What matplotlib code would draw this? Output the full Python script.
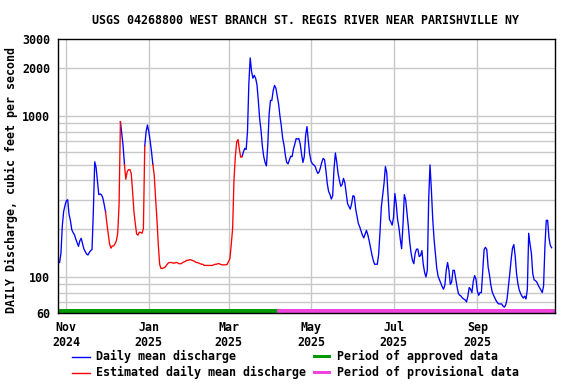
import matplotlib
matplotlib.use("Agg")
import matplotlib.pyplot as plt
from matplotlib.lines import Line2D
from matplotlib.patches import Rectangle
from matplotlib.ticker import FixedLocator, NullFormatter
import numpy as np
import pandas as pd

title = "USGS 04268800 WEST BRANCH ST. REGIS RIVER NEAR PARISHVILLE NY"
ylabel = "DAILY Discharge, cubic feet per second"
start_date = "2024-10-26"

# daily mean discharge (cfs), 2024-10-26 .. 2025-10-26
discharge = [
    123, 123, 140, 207, 255, 278, 298, 302, 245, 225,
    197, 189, 183, 172, 163, 155, 168, 174, 161, 149,
    144, 139, 137, 142, 146, 148, 260, 520, 480, 395,
    325, 328, 324, 310, 282, 254, 215, 185, 160, 151,
    156, 156, 161, 168, 187, 280, 923, 780, 650, 500,
    405, 450, 465, 465, 440, 340, 255, 215, 185, 182,
    190, 189, 187, 200, 650, 800, 880, 800, 700, 600,
    500, 430, 310, 230, 160, 120, 113, 113, 114, 115,
    118, 121, 123, 123, 123, 122, 122, 123, 123, 121,
    121, 121, 123, 124, 125, 127, 127, 128, 128, 127,
    126, 125, 123, 123, 122, 121, 120, 120, 118, 118,
    118, 118, 118, 118, 118, 119, 120, 120, 121, 121,
    120, 119, 119, 119, 119, 120, 125, 130, 160, 200,
    400, 560, 690, 715, 620, 555, 560, 600, 630, 620,
    800, 1600, 2300, 1900, 1720, 1790, 1720, 1570, 1250, 960,
    818, 650, 561, 515, 490, 660, 1030, 1250, 1250, 1440,
    1550, 1490, 1330, 1190, 1000, 870, 730, 662, 570, 515,
    505, 535, 563, 560, 625, 670, 725, 720, 725, 670,
    580, 515, 560, 760, 860, 700, 580, 525, 505, 498,
    488, 460, 440, 450, 480, 518, 546, 535, 460, 380,
    340, 326, 305, 320, 470, 590, 520, 440, 398, 366,
    375, 410, 385, 330, 286, 275, 264, 285, 320, 317,
    265, 238, 215, 205, 193, 182, 175, 185, 195, 183,
    168, 152, 138, 127, 120, 120, 120, 138, 190, 273,
    325, 382, 486, 445, 320, 228, 220, 210, 235, 330,
    285, 228, 203, 172, 150, 210, 325, 302, 250, 205,
    165, 141, 127, 121, 140, 149, 149, 134, 136, 146,
    120, 107, 100, 110, 300, 497, 350, 230, 172, 140,
    113, 101, 96, 91, 87, 84, 89, 110, 123, 110,
    90, 93, 110, 110, 98, 87, 79, 77, 76, 74,
    73, 72, 70, 76, 86, 84, 80, 94, 102, 97,
    82, 77, 80, 80, 109, 148, 153, 148, 115, 103,
    89, 81, 77, 74, 71, 69, 68, 68, 68, 66,
    65, 67, 73, 87, 105, 128, 151, 159, 135, 105,
    91, 83, 79, 76, 74, 76, 73, 84, 187, 160,
    140, 105, 96, 95, 93, 89, 86, 83, 80, 88,
    155, 225, 225, 175, 157, 152,
]

estimated_periods = [
    ("2024-11-30", "2024-12-11"),
    ("2024-12-14", "2024-12-29"),
    ("2025-01-04", "2025-03-11"),
]
approved_end = "2025-04-06"

x_start = "2024-10-25 20:00"
x_end = "2025-10-28 02:00"

ytick_values = [60, 100, 1000, 2000, 3000]
ytick_labels = ["60", "100", "1000", "2000", "3000"]
ygrid_values = [70, 80, 90, 100, 200, 300, 400, 500, 600, 700, 800, 900, 1000, 2000]

xtick_dates = ["2024-11-01", "2025-01-01", "2025-03-01", "2025-05-01", "2025-07-01", "2025-09-01"]
xtick_labels = ["Nov\n2024", "Jan\n2025", "Mar\n2025", "May\n2025", "Jul\n2025", "Sep\n2025"]

legend_labels = ["Daily mean discharge", "Estimated daily mean discharge",
                 "Period of approved data", "Period of provisional data"]

BLUE = "#0000ff"
RED = "#ff0000"
GREEN = "#009900"
MAGENTA = "#ee44dd"
GRID = "#c8c8c8"

FONT = dict(family="DejaVu Sans Mono", weight="bold", size=8.4)

W, H = 576, 384
fig = plt.figure(figsize=(W / 100, H / 100), dpi=100)
left, right, top, bottom = 58, 554.5, 39.3, 312.7
ax = fig.add_axes([left / W, 1 - bottom / H, (right - left) / W, (bottom - top) / H])

dates = pd.date_range(start_date, periods=len(discharge), freq="D")
vals = np.array(discharge, dtype=float)

ax.set_yscale("log")
ax.set_ylim(60, 3000)
ax.set_xlim(pd.Timestamp(x_start), pd.Timestamp(x_end))

for g in ygrid_values:
    ax.axhline(g, color=GRID, lw=1.0, zorder=1)
for d in xtick_dates:
    ax.axvline(pd.Timestamp(d), color=GRID, lw=1.0, zorder=1)

# blue line: break it inside estimated periods
blue_vals = vals.copy()
for s, e in estimated_periods:
    inner = (dates > pd.Timestamp(s)) & (dates < pd.Timestamp(e))
    blue_vals[inner] = np.nan
ax.plot(dates, blue_vals, color=BLUE, lw=0.95, zorder=3)
for s, e in estimated_periods:
    m = (dates >= pd.Timestamp(s)) & (dates <= pd.Timestamp(e))
    ax.plot(dates[m], vals[m], color=RED, lw=0.95, zorder=4)

bar_h = 0.013
ax.axvspan(pd.Timestamp(x_start), pd.Timestamp(approved_end), ymin=0, ymax=bar_h,
           color=GREEN, lw=0, zorder=5)
ax.axvspan(pd.Timestamp(approved_end), pd.Timestamp(x_end), ymin=0, ymax=bar_h,
           color=MAGENTA, lw=0, zorder=5)

ax.yaxis.set_major_locator(FixedLocator(ytick_values))
ax.set_yticklabels(ytick_labels)
ax.yaxis.set_minor_formatter(NullFormatter())
ax.yaxis.set_minor_locator(FixedLocator([]))
ax.set_xticks([pd.Timestamp(d) for d in xtick_dates])
ax.set_xticklabels(xtick_labels, linespacing=1.15)
ax.tick_params(length=0)
ax.tick_params(axis="y", pad=5.5)
ax.tick_params(axis="x", pad=6)
for lab in ax.get_xticklabels() + ax.get_yticklabels():
    lab.set_fontfamily(FONT["family"])
    lab.set_fontweight(FONT["weight"])
    lab.set_fontsize(FONT["size"])

for sp in ax.spines.values():
    sp.set_linewidth(1.0)
    sp.set_color("black")
    sp.set_zorder(6)

fig.text(306 / W, 1 - 20 / H, title, ha="center", va="center", **FONT)
fig.text(11.7 / W, 1 - 180 / H, ylabel, ha="center", va="center", rotation=90, **FONT)

# legend
rows = [356.5, 372.5]
fig.add_artist(Line2D([71.7 / W, 90 / W], [1 - rows[0] / H] * 2, color=BLUE, lw=1.0))
fig.add_artist(Line2D([71.7 / W, 90 / W], [1 - rows[1] / H] * 2, color=RED, lw=1.0))
fig.text(95.7 / W, 1 - rows[0] / H, legend_labels[0], ha="left", va="center", **FONT)
fig.text(95.7 / W, 1 - rows[1] / H, legend_labels[1], ha="left", va="center", **FONT)
for r, c in zip(rows, [GREEN, MAGENTA]):
    fig.add_artist(Rectangle((313.3 / W, 1 - (r + 1.5) / H), (331 - 313.3) / W, 3.5 / H,
                             color=c, lw=0, transform=fig.transFigure))
fig.text(336.7 / W, 1 - rows[0] / H, legend_labels[2], ha="left", va="center", **FONT)
fig.text(336.7 / W, 1 - rows[1] / H, legend_labels[3], ha="left", va="center", **FONT)

fig.savefig("out.png", dpi=100)
